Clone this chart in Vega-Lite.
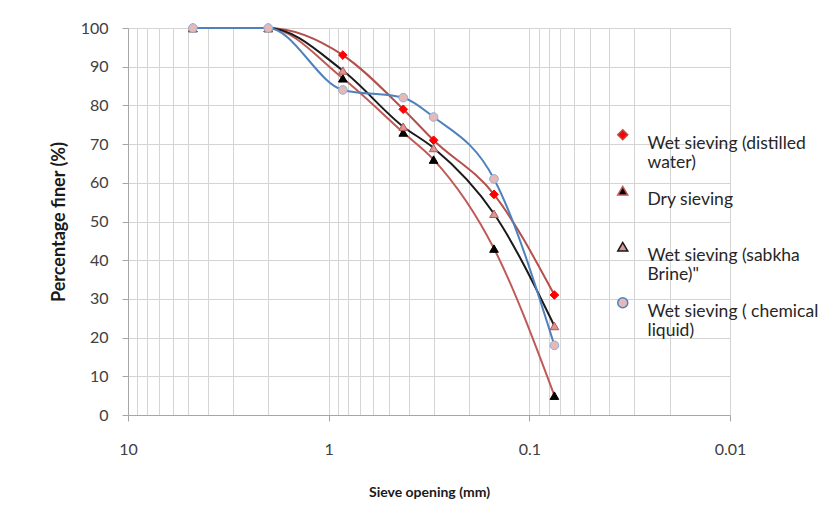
{
  "$schema": "https://vega.github.io/schema/vega-lite/v6.json",
  "width": 602,
  "height": 387,
  "autosize": {"type": "none"},
  "padding": {"left": 128, "top": 28, "right": 91, "bottom": 96},
  "background": "white",
  "config": {
    "font": "Lato",
    "view": {"stroke": "#d0d0d0", "strokeWidth": 1},
    "axis": {
      "gridColor": "#d4d4d4",
      "gridWidth": 1,
      "domainColor": "#a6a6a6",
      "tickColor": "#a6a6a6",
      "labelFont": "Lato",
      "labelFontSize": 16,
      "labelColor": "#404040",
      "titleFont": "Lato",
      "titleFontWeight": "bold",
      "titleColor": "#1a1a1a"
    }
  },
  "data": {
    "values": [
      {"series": "Wet sieving (distilled water)", "size": 4.75, "finer": 100},
      {"series": "Wet sieving (distilled water)", "size": 2.0, "finer": 100},
      {"series": "Wet sieving (distilled water)", "size": 0.85, "finer": 93},
      {"series": "Wet sieving (distilled water)", "size": 0.425, "finer": 79},
      {"series": "Wet sieving (distilled water)", "size": 0.3, "finer": 71},
      {"series": "Wet sieving (distilled water)", "size": 0.15, "finer": 57},
      {"series": "Wet sieving (distilled water)", "size": 0.075, "finer": 31},
      {"series": "Dry sieving", "size": 4.75, "finer": 100},
      {"series": "Dry sieving", "size": 2.0, "finer": 100},
      {"series": "Dry sieving", "size": 0.85, "finer": 87},
      {"series": "Dry sieving", "size": 0.425, "finer": 73},
      {"series": "Dry sieving", "size": 0.3, "finer": 66},
      {"series": "Dry sieving", "size": 0.15, "finer": 43},
      {"series": "Dry sieving", "size": 0.075, "finer": 5},
      {"series": "Wet sieving (sabkha Brine)\"", "size": 4.75, "finer": 100},
      {"series": "Wet sieving (sabkha Brine)\"", "size": 2.0, "finer": 100},
      {"series": "Wet sieving (sabkha Brine)\"", "size": 0.85, "finer": 89},
      {"series": "Wet sieving (sabkha Brine)\"", "size": 0.425, "finer": 74.5},
      {"series": "Wet sieving (sabkha Brine)\"", "size": 0.3, "finer": 69},
      {"series": "Wet sieving (sabkha Brine)\"", "size": 0.15, "finer": 52},
      {"series": "Wet sieving (sabkha Brine)\"", "size": 0.075, "finer": 23},
      {"series": "Wet sieving ( chemical liquid)", "size": 4.75, "finer": 100},
      {"series": "Wet sieving ( chemical liquid)", "size": 2.0, "finer": 100},
      {"series": "Wet sieving ( chemical liquid)", "size": 0.85, "finer": 84},
      {"series": "Wet sieving ( chemical liquid)", "size": 0.425, "finer": 82},
      {"series": "Wet sieving ( chemical liquid)", "size": 0.3, "finer": 77},
      {"series": "Wet sieving ( chemical liquid)", "size": 0.15, "finer": 61},
      {"series": "Wet sieving ( chemical liquid)", "size": 0.075, "finer": 18}
    ]
  },
  "encoding": {
    "x": {
      "field": "size",
      "type": "quantitative",
      "scale": {"type": "log", "domain": [0.01, 10], "reverse": true, "nice": false},
      "axis": {
        "title": "Sieve opening (mm)",
        "titleFontSize": 14,
        "values": [10, 9, 8, 7, 6, 5, 4, 3, 2, 1, 0.9, 0.8, 0.7, 0.6, 0.5, 0.4, 0.3, 0.2, 0.1, 0.09, 0.08, 0.07, 0.06, 0.05, 0.04, 0.03, 0.02, 0.01],
        "labelExpr": "datum.value == 10 ? '10' : datum.value == 1 ? '1' : datum.value == 0.1 ? '0.1' : datum.value == 0.01 ? '0.01' : ''",
        "tickOpacity": {"condition": {"test": "datum.value == 10 || datum.value == 1 || datum.value == 0.1 || datum.value == 0.01", "value": 1}, "value": 0},
        "tickSize": 6,
        "labelPadding": 20,
        "titlePadding": 28,
        "labelFlush": false
      }
    },
    "y": {
      "field": "finer",
      "type": "quantitative",
      "scale": {"domain": [0, 100], "nice": false},
      "axis": {
        "title": "Percentage finer (%)",
        "titleFontSize": 18,
        "values": [0, 10, 20, 30, 40, 50, 60, 70, 80, 90, 100],
        "tickSize": 6,
        "labelPadding": 14,
        "titlePadding": 12
      }
    }
  },
  "layer": [
    {
      "mark": {"type": "line", "interpolate": "monotone", "strokeWidth": 2},
      "encoding": {
        "color": {
          "field": "series",
          "type": "nominal",
          "scale": {
            "domain": ["Wet sieving (distilled water)", "Dry sieving", "Wet sieving (sabkha Brine)\"", "Wet sieving ( chemical liquid)"],
            "range": ["#b4504c", "#bf5a56", "#1a1a1a", "#4f81bd"]
          }
        },
        "detail": {"field": "series"},
        "order": {"field": "size", "sort": "descending"}
      }
    },
    {
      "mark": {"type": "point", "filled": true, "opacity": 1, "strokeWidth": 1, "size": 75},
      "encoding": {
        "shape": {
          "field": "series",
          "type": "nominal",
          "scale": {
            "domain": ["Wet sieving (distilled water)", "Dry sieving", "Wet sieving (sabkha Brine)\"", "Wet sieving ( chemical liquid)"],
            "range": ["diamond", "triangle-up", "triangle-up", "circle"]
          },
          "legend": {
            "title": null,
            "orient": "none",
            "legendX": 486,
            "legendY": 98,
            "padding": 0,
            "symbolSize": 100,
            "labelOffset": 16,
            "labelFont": "Lato",
            "labelFontSize": 17.5,
            "labelColor": "#262626",
            "labelBaseline": "top",
            "labelLimit": 300,
            "rowPadding": 10,
            "labelExpr": "datum.label == 'Wet sieving (distilled water)' ? ['Wet sieving (distilled', 'water)'] : datum.label == 'Dry sieving' ? ['Dry sieving', ' '] : datum.label == 'Wet sieving (sabkha Brine)\"' ? ['Wet sieving (sabkha', 'Brine)\"'] : ['Wet sieving ( chemical', 'liquid)']"
          }
        },
        "fill": {
          "field": "series",
          "type": "nominal",
          "scale": {
            "domain": ["Wet sieving (distilled water)", "Dry sieving", "Wet sieving (sabkha Brine)\"", "Wet sieving ( chemical liquid)"],
            "range": ["#ff0000", "#000000", "#d99694", "#e6b9b8"]
          }
        },
        "stroke": {
          "field": "series",
          "type": "nominal",
          "scale": {
            "domain": ["Wet sieving (distilled water)", "Dry sieving", "Wet sieving (sabkha Brine)\"", "Wet sieving ( chemical liquid)"],
            "range": ["#ff0000", "#000000", "#b05a57", "#8fb0d8"]
          }
        }
      }
    }
  ]
}
